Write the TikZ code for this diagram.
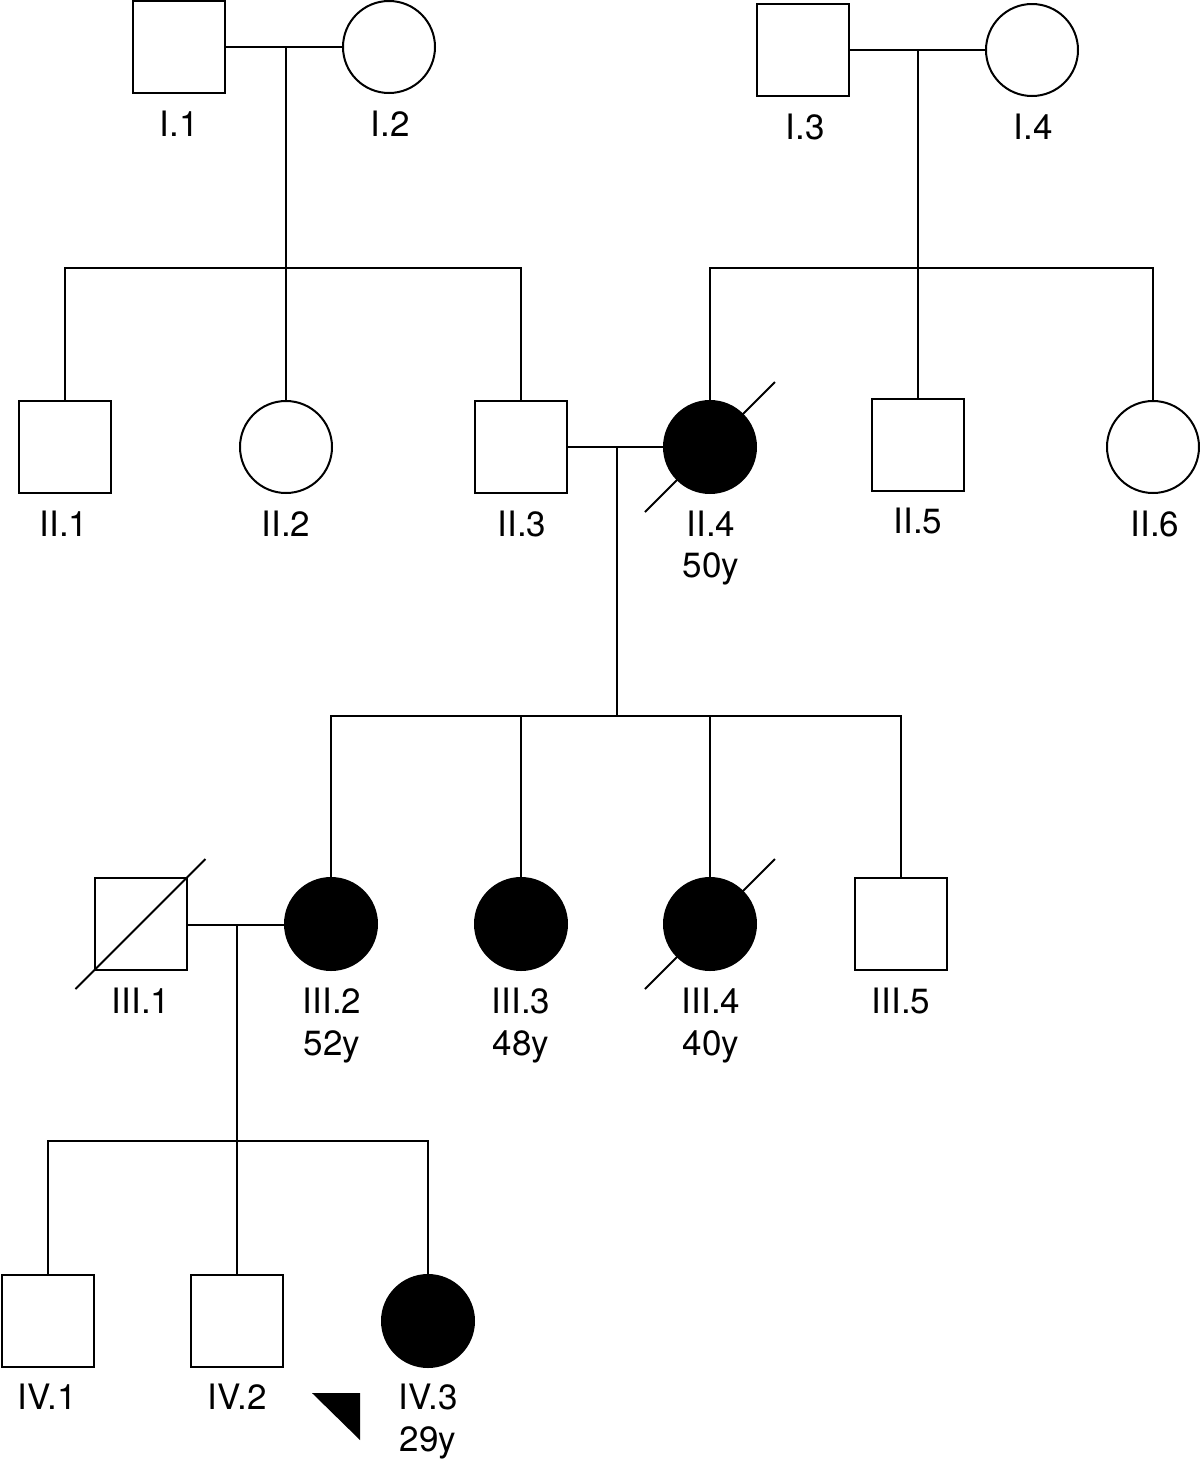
\documentclass[tikz,border=0pt]{standalone}
\usepackage{fontspec}
\setmainfont{TeX Gyre Heros}
\begin{document}
\begin{tikzpicture}[x=1pt,y=-1pt,
  line width=2pt,
  male/.style={draw,rectangle,minimum size=92pt,inner sep=0pt},
  female/.style={draw,circle,minimum size=92pt,inner sep=0pt},
  aff/.style={fill=black},
  lbl/.style={anchor=base,inner sep=0pt,font=\fontsize{35}{42}\selectfont},
  ]
\useasboundingbox (0,0) rectangle (1200,1460);
% Generation I
\node[male] (I1) at (179,47) {};
\node[female] (I2) at (389,47) {};
\node[male] (I3) at (803,50) {};
\node[female] (I4) at (1032,50) {};
% Generation II
\node[male] (II1) at (64.5,447) {};
\node[female] (II2) at (286,447) {};
\node[male] (II3) at (520.5,447) {};
\node[female,aff] (II4) at (710,447) {};
\node[male] (II5) at (918,445) {};
\node[female] (II6) at (1153,447) {};
% Generation III
\node[male] (III1) at (140.5,924) {};
\node[female,aff] (III2) at (331,924) {};
\node[female,aff] (III3) at (521,924) {};
\node[female,aff] (III4) at (710,924) {};
\node[male] (III5) at (900.5,924) {};
% Generation IV
\node[male] (IV1) at (47.5,1321) {};
\node[male] (IV2) at (237,1321) {};
\node[female,aff] (IV3) at (428,1321) {};
% labels
\node[lbl] (tI1) at (179,136) {I.1};
\node[lbl] (tI2) at (390,136) {I.2};
\node[lbl] (tI3) at (805,139) {I.3};
\node[lbl] (tI4) at (1033,139) {I.4};
\node[lbl] (tII1) at (64,536) {II.1};
\node[lbl] (tII2) at (286,536) {II.2};
\node[lbl] (tII3) at (522,536) {II.3};
\node[lbl] (tII4) at (711,536) {II.4};
\node[lbl] (aII4) at (711,577) {50y};
\node[lbl] (tII5) at (918,533) {II.5};
\node[lbl] (tII6) at (1155,536) {II.6};
\node[lbl] (tIII1) at (141,1013) {III.1};
\node[lbl] (tIII2) at (332,1013) {III.2};
\node[lbl] (aIII2) at (332,1055) {52y};
\node[lbl] (tIII3) at (521,1013) {III.3};
\node[lbl] (aIII3) at (521,1055) {48y};
\node[lbl] (tIII4) at (711,1013) {III.4};
\node[lbl] (aIII4) at (711,1055) {40y};
\node[lbl] (tIII5) at (901,1013) {III.5};
\node[lbl] (tIV1) at (47,1409) {IV.1};
\node[lbl] (tIV2) at (237,1409) {IV.2};
\node[lbl] (tIV3) at (428,1409) {IV.3};
\node[lbl] (aIV3) at (428,1451) {29y};
% mating and descent points
\coordinate (m1) at (286,47);
\coordinate (s1) at (286,268);
\coordinate (m2) at (918,50);
\coordinate (s2) at (918,268);
\coordinate (m3) at (617,447);
\coordinate (s3) at (617,716);
\coordinate (m4) at (237,925);
\coordinate (s4) at (237,1141);
% family 1
\draw (I1) -- (I2);
\draw (m1) -- (s1);
\draw (II1.north) |- (s1);
\draw (II2.north) -- (s1);
\draw (II3.north) |- (s1);
% family 2
\draw (I3) -- (I4);
\draw (m2) -- (s2);
\draw (II4.north) |- (s2);
\draw (II5.north) -- (s2);
\draw (II6.north) |- (s2);
% family 3
\draw (II3) -- (II4);
\draw (m3) -- (s3);
\draw (III2.north) |- (s3);
\draw (III3.north) |- (s3);
\draw (III4.north) |- (s3);
\draw (III5.north) |- (s3);
% family 4
\draw (III1.east |- m4) -- (III2.west |- m4);
\draw (m4) -- (s4);
\draw (IV1.north) |- (s4);
\draw (IV2.north) -- (s4);
\draw (IV3.north) |- (s4);
% deceased marks
\draw ([shift={(-65,65)}]II4.center) -- ([shift={(65,-65)}]II4.center);
\draw ([shift={(-65,65)}]III4.center) -- ([shift={(65,-65)}]III4.center);
\draw ([shift={(-65,65)}]III1.center) -- ([shift={(65,-65)}]III1.center);
% proband arrow
\fill (312,1393) -- (360,1393) -- (360,1440) -- cycle;
\end{tikzpicture}
\end{document}
